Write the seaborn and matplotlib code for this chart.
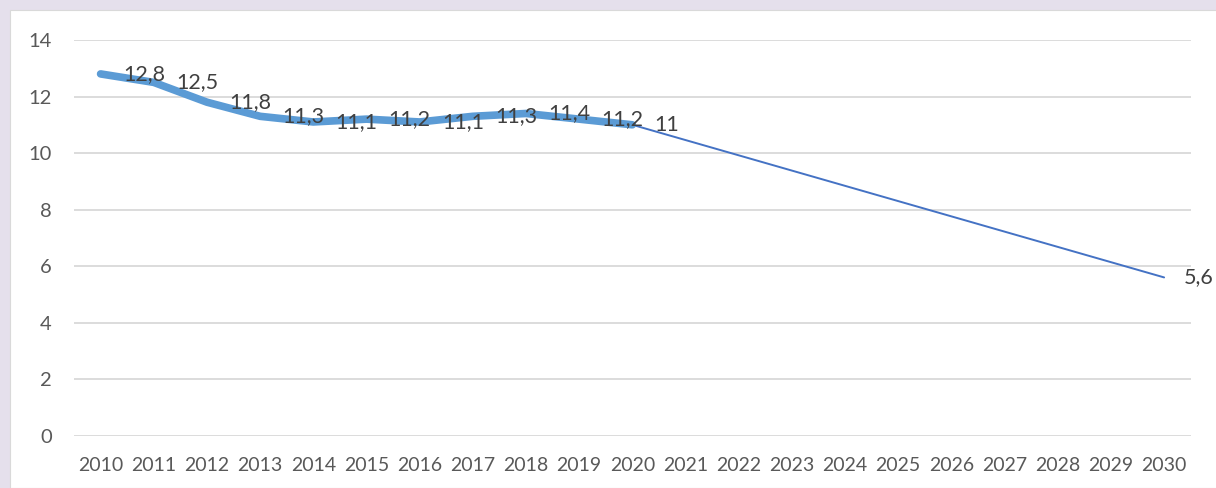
import pandas as pd
import numpy as np
import matplotlib.pyplot as plt
import seaborn as sns
from matplotlib.patches import Rectangle

# data
years = list(range(2010, 2031))
actual_years = list(range(2010, 2021))
actual = [12.8, 12.5, 11.8, 11.3, 11.1, 11.2, 11.1, 11.3, 11.4, 11.2, 11.0]
forecast_years = [2020, 2030]
forecast = [11.0, 5.6]
y_ticks = [0, 2, 4, 6, 8, 10, 12, 14]

df_actual = pd.DataFrame({"year": actual_years, "value": actual})
df_forecast = pd.DataFrame({"year": forecast_years, "value": forecast})

sns.set_style("white")
plt.rcParams['font.family'] = ['Lato', 'DejaVu Sans']

fig = plt.figure(figsize=(12.16, 4.88), dpi=100)
fig.patch.set_facecolor("#E5E0EC")
# white chart panel
fig.patches.append(Rectangle((10 / 1216, 0), 1.0, 1 - 10 / 488, transform=fig.transFigure,
                             facecolor="white", edgecolor="#D9D9D9", linewidth=0.8, zorder=-1))

ax = fig.add_axes([74 / 1216, 1 - 435.7 / 488, (1190.7 - 74) / 1216, (435.7 - 40) / 488])
ax.set_zorder(1)
ax.set_facecolor("none")

sns.lineplot(data=df_forecast, x="year", y="value", ax=ax, color="#4472C4", linewidth=1.4, zorder=3)
sns.lineplot(data=df_actual, x="year", y="value", ax=ax, color="#5B9BD5", linewidth=5.5,
             solid_capstyle="round", solid_joinstyle="round", zorder=4)

def fmt(v):
    s = ("%.1f" % v).rstrip("0").rstrip(".")
    return s.replace(".", ",")

for x, v in zip(actual_years, actual):
    ax.annotate(fmt(v), (x, v), xytext=(16, 0), textcoords="offset points",
                ha="left", va="center", fontsize=15.5, color="#404040", zorder=5)
ax.annotate(fmt(forecast[-1]), (forecast_years[-1], forecast[-1]), xytext=(14, 0),
            textcoords="offset points", ha="left", va="center", fontsize=15.5,
            color="#404040", zorder=5)

ax.set_xlim(2009.5, 2030.5)
ax.set_ylim(0, 14)
ax.set_xticks(years)
ax.set_yticks(y_ticks)
ax.set_xlabel("")
ax.set_ylabel("")
ax.grid(axis="y", color="#D9D9D9", linewidth=1.3)
ax.set_axisbelow(True)
for s in ax.spines.values():
    s.set_visible(False)
ax.tick_params(axis="x", length=0, pad=15, labelsize=14, labelcolor="#595959")
ax.tick_params(axis="y", length=0, pad=16, labelsize=14.5, labelcolor="#595959")

fig.savefig("out.png", dpi=100, facecolor=fig.get_facecolor())
